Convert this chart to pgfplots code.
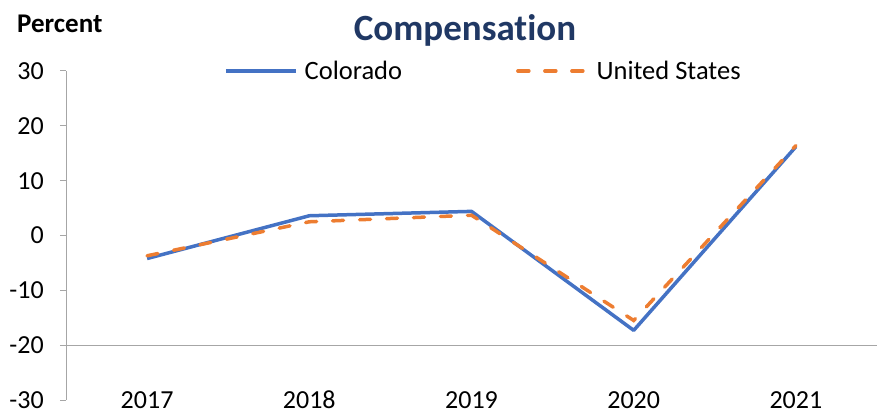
\documentclass[border=0pt]{standalone}
\usepackage{pgfplots}
\pgfplotsset{compat=1.18}
\usepackage{fontspec}
\setmainfont{Carlito}[Ligatures={NoCommon,NoContextual}]
\definecolor{coblue}{HTML}{4472C4}
\definecolor{usorange}{HTML}{ED7D31}
\definecolor{titleblue}{HTML}{203864}
\definecolor{axgray}{HTML}{A6A6A6}
\begin{document}
\begin{tikzpicture}
\path[use as bounding box] (0,0) rectangle (877bp,415bp);
\begin{axis}[
  at={(66bp,15bp)}, anchor=south west,
  scale only axis, width=811bp, height=329bp,
  xmin=-0.5, xmax=4.5, ymin=-30, ymax=30,
  xtick={0,1,2,3,4}, xticklabels={2017,2018,2019,2020,2021},
  ytick={-30,-20,-10,0,10,20,30},
  yticklabels={-30,-20,-10,0,10,20,30},
  axis y line*=left, axis x line*=bottom,
  x axis line style={draw=none},
  y axis line style={draw=axgray, line width=1bp, -},
  xtick style={draw=none},
  ytick style={draw=axgray, line width=1bp},
  tick align=outside, major tick length=6bp,
  ticklabel style={font=\fontsize{26bp}{26bp}\selectfont},
  xticklabel style={anchor=base, inner sep=0pt, yshift=-2bp},
  yticklabel style={anchor=east, inner sep=0pt, xshift=-16bp},
  extra y ticks={-20}, extra y tick labels={},
  extra y tick style={grid=major, major grid style={draw=axgray, line width=1bp}, ytick style={draw=none}},
  legend columns=2,
  legend cell align=left,
  legend style={at={(0.1948,1)}, anchor=west, draw=none, fill=none, inner sep=0pt,
    nodes={inner sep=0pt},
    font=\fontsize{26.5bp}{26.5bp}\selectfont,
    /tikz/every odd column/.append style={column sep=7bp},
    /tikz/every even column/.append style={column sep=114bp}},
  legend image code/.code={\draw[#1] (0bp,0bp) -- (70bp,0bp);},
]
\addplot[coblue, line width=3.5bp, line join=round] coordinates {(0,-4.2) (1,3.6) (2,4.4) (3,-17.3) (4,16.2)};
\addlegendentry{Colorado}
\addplot[usorange, line width=3.5bp, line cap=round, dash pattern=on 11bp off 16bp] coordinates {(0,-3.7) (1,2.5) (2,3.7) (3,-15.5) (4,16.4)};
\addlegendentry{United States}
\end{axis}
\node[font=\fontsize{37bp}{37bp}\selectfont\bfseries, text=titleblue] at (465bp,385bp) {Compensation};
\node[anchor=west, inner sep=0pt, font=\fontsize{27bp}{27bp}\selectfont\bfseries] at (17bp,391bp) {Percent};
\end{tikzpicture}
\end{document}
